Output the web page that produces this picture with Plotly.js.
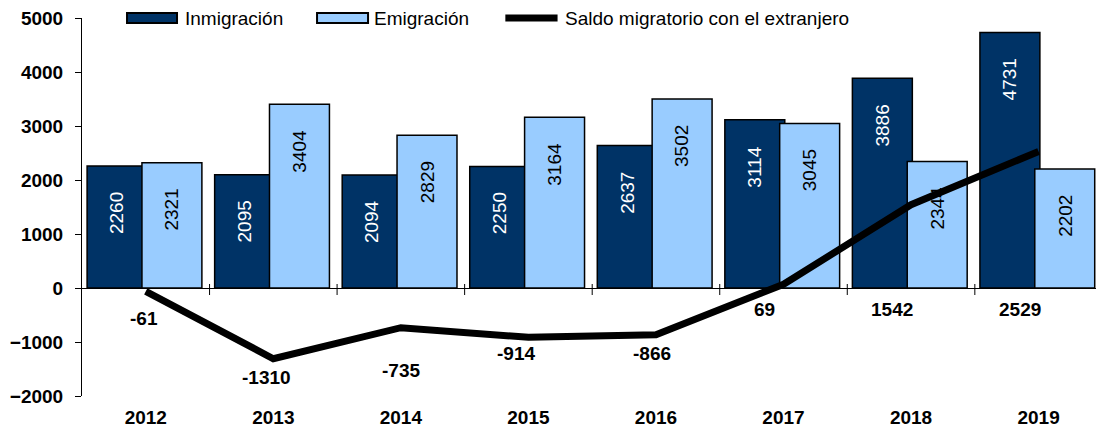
<!DOCTYPE html>
<html>
<head>
<meta charset="utf-8">
<script src="https://cdn.plot.ly/plotly-3.0.1.min.js"></script>
<style>html,body{margin:0;padding:0;overflow:hidden;background:#fff}</style>
</head>
<body>
<div id="chart" style="width:1096px;height:432px"></div>
<script>
// ---- data ----
const years = ['2012','2013','2014','2015','2016','2017','2018','2019'];
const inmigracion = [2260, 2095, 2094, 2250, 2637, 3114, 3886, 4731];
const emigracion  = [2321, 3404, 2829, 3164, 3502, 3045, 2344, 2202];
const saldo       = [-61, -1310, -735, -914, -866, 69, 1542, 2529];
const seriesNames = ['Inmigración', 'Emigración', 'Saldo migratorio con el extranjero'];

// ---- styles ----
const DARK = '#003366', LIGHT = '#99CCFF';
const FONT = 'Liberation Sans, Arial, sans-serif';
const labelDx = [-2, -7, 0, -12, -4, -19, -19, -19];   // pixel nudges for line labels
const labelDy = [27, 19, 43, 16, 19, 21, 21, 21];
const barLabelDrop = 47;                               // px from bar top to label centre
const darkOffset = -0.46, lightOffset = -0.03, barWidth = 0.47;

const traces = [
  {type:'bar', name:seriesNames[0], x:years, y:inmigracion,
   offset:darkOffset, width:barWidth,
   marker:{color:DARK, line:{color:'#000', width:1.5}}, hoverinfo:'skip', showlegend:false},
  {type:'bar', name:seriesNames[1], x:years, y:emigracion,
   offset:lightOffset, width:barWidth,
   marker:{color:LIGHT, line:{color:'#000', width:1.5}}, hoverinfo:'skip', showlegend:false},
  {type:'scatter', mode:'lines', name:seriesNames[2], x:years, y:saldo,
   line:{color:'#000', width:7}, hoverinfo:'skip', showlegend:false}
];

const annotations = [];
// bar value labels (rotated, inside near top)
function barLabels(vals, offset, color) {
  vals.forEach((v, i) => annotations.push({
    x: i + offset + barWidth / 2, y: v, xref:'x', yref:'y', showarrow:false,
    text: String(v), textangle:-90, xanchor:'center', yanchor:'middle',
    yshift: -barLabelDrop, font:{family:FONT, size:19, color:color}
  }));
}
barLabels(inmigracion, darkOffset, '#ffffff');
barLabels(emigracion, lightOffset, '#000000');

// line value labels
saldo.forEach((v, i) => annotations.push({
  x: i, y: Math.min(v, 0), xref:'x', yref:'y', showarrow:false,
  text: String(v), xanchor:'center', yanchor:'middle',
  xshift: labelDx[i], yshift: -labelDy[i],
  font:{family:FONT, size:19, color:'#000', weight:'bold'}
}));

// legend (custom, wide swatches)
const legendText = [
  {x:0.0996, t:seriesNames[0]},
  {x:0.286,  t:seriesNames[1]},
  {x:0.4744, t:seriesNames[2]}
];
legendText.forEach(l => annotations.push({
  x:l.x, y:1, xref:'paper', yref:'paper', showarrow:false, text:l.t,
  xanchor:'left', yanchor:'middle', font:{family:FONT, size:19, color:'#000'}
}));

const shapes = [
  {type:'rect', xref:'paper', yref:'paper', x0:0.0444, x1:0.0937, y0:0.9868, y1:1.0132,
   fillcolor:DARK, line:{color:'#000', width:2}},
  {type:'rect', xref:'paper', yref:'paper', x0:0.2318, x1:0.2821, y0:0.9868, y1:1.0132,
   fillcolor:LIGHT, line:{color:'#000', width:2}},
  {type:'line', xref:'paper', yref:'paper', x0:0.4175, x1:0.469, y0:1, y1:1,
   line:{color:'#000', width:7}}
];
// category boundary tick marks on the zero line
for (let i = 0; i < years.length - 1; i++) {
  shapes.push({type:'line', xref:'x', yref:'y', x0:i + 0.5, x1:i + 0.5,
    ysizemode:'pixel', yanchor:0, y0:-7, y1:4, line:{color:'#000', width:1}, layer:'below'});
}

const layout = {
  width:1096, height:432,
  margin:{l:82, r:0, t:18, b:36},
  paper_bgcolor:'#fff', plot_bgcolor:'#fff',
  showlegend:false,
  barmode:'group',
  xaxis:{type:'category', range:[-0.5, 7.45], showline:false, ticks:'', showgrid:false,
         zeroline:false, tickfont:{family:FONT, size:19, color:'#000', weight:'bold'},
         ticklabelstandoff:8},
  yaxis:{range:[-2000, 5000], dtick:1000, showline:true, linecolor:'#000', linewidth:1,
         ticks:'outside', ticklen:6, tickcolor:'#000', showgrid:false,
         zeroline:true, zerolinecolor:'#000', zerolinewidth:1,
         tickfont:{family:FONT, size:19, color:'#000', weight:'bold'}, ticklabelstandoff:8},
  annotations: annotations,
  shapes: shapes
};

Plotly.newPlot('chart', traces, layout, {staticPlot:true, displayModeBar:false});
</script>
</body>
</html>
